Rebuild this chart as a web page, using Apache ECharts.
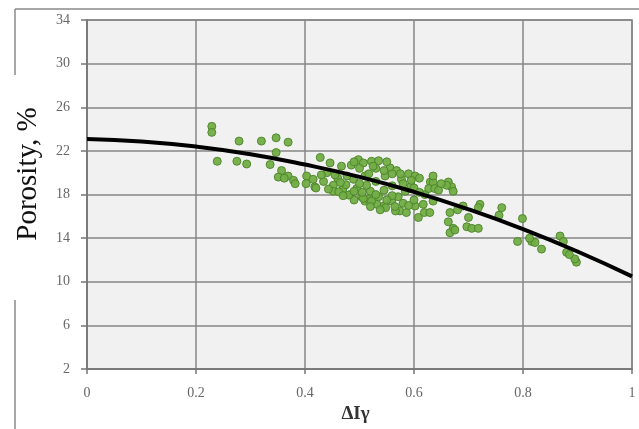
<!DOCTYPE html>
<html>
<head>
<meta charset="utf-8">
<script src="https://cdn.jsdelivr.net/npm/echarts@6/dist/echarts.min.js"></script>
<style>
html,body{margin:0;padding:0;background:#fff;}
#c{width:639px;height:429px;}
</style>
</head>
<body>
<div id="c"></div>
<script>
// Axis tick labels
const xTicks = [0, 0.2, 0.4, 0.6, 0.8, 1];
const yTicks = [2, 6, 10, 14, 18, 22, 26, 30, 34];

// Fitted trend curve
const curveX = [0, 0.1, 0.2, 0.3, 0.4, 0.5, 0.6, 0.7, 0.8, 0.9, 1.0];
const curveY = [23.1, 22.86, 22.4, 21.7, 20.75, 19.62, 18.25, 16.65, 14.83, 12.78, 10.5];

// Measured samples: ΔIγ
const sampleX = [
  0.229,0.229,0.239,0.275,0.279,0.293,0.32,0.347,0.369,0.347,0.336,0.357,0.351,0.369,0.379,0.362,0.403,0.402,0.382,
  0.428,0.446,0.467,0.498,0.507,0.418,0.434,0.452,0.452,0.47,0.483,0.495,0.504,0.51,0.489,0.51,0.477,0.42,0.443,0.44,0.46,
  0.522,0.535,0.556,0.568,0.59,0.602,0.577,0.547,0.517,0.52,0.535,0.532,0.545,0.559,0.571,0.584,0.574,0.586,0.608,0.602,
  0.617,0.62,0.63,0.627,0.517,0.513,0.49,0.507,0.522,0.548,0.566,0.619,0.462,0.48,0.53,0.545,0.5,0.485,0.49,0.525,
  0.55,0.56,0.58,0.595,0.61,0.6,0.56,0.545,0.53,0.5,0.475,0.465,0.455,0.43,0.415,0.49,0.53,0.56,0.58,0.55,
  0.565,0.59,0.6,0.61,0.575,0.595,0.538,0.505,0.47,0.52,
  0.635,0.638,0.663,0.669,0.672,0.66,0.69,0.721,0.718,0.666,0.663,0.672,0.666,0.675,0.697,0.706,0.718,0.629,0.635,0.635,
  0.645,0.65,0.68,0.7,0.761,0.756,0.799,0.79,0.816,0.822,0.834,0.868,0.874,0.88,0.898,0.895,0.885,0.812
];
// Measured samples: porosity %
const sampleY = [
  24.25,23.7,21.05,21.05,22.9,20.8,22.9,23.2,22.8,21.85,20.75,20.2,19.6,19.7,19.3,19.5,19.7,19.0,19.0,
  21.4,20.9,20.6,21.2,20.9,18.7,19.2,18.85,18.3,18.55,18.0,18.55,17.8,17.4,19.4,19.7,19.7,18.6,18.5,20.0,19.5,
  21.05,21.1,20.45,20.2,19.9,19.7,19.4,19.7,19.9,18.3,17.8,17.1,16.95,17.4,17.8,18.3,16.5,16.35,15.9,16.95,
  17.1,18.0,19.15,18.55,17.55,18.85,17.5,17.65,17.4,16.8,16.5,16.35,18.25,17.95,20.4,20.2,20.4,20.7,21.0,20.6,
  21.0,19.9,19.0,18.8,19.5,18.6,18.8,18.4,19.2,19.0,18.9,19.1,19.8,19.8,19.4,18.3,18.0,17.9,17.2,17.5,
  16.9,17.0,17.5,18.2,19.9,19.3,16.6,18.2,17.9,16.9,
  19.15,18.55,19.15,18.7,18.3,18.85,16.95,17.1,16.8,16.35,15.5,14.9,14.5,14.75,15.05,14.9,14.9,16.35,17.4,19.7,
  18.4,19.0,16.6,15.9,16.8,16.1,15.8,13.7,13.7,13.6,13.0,14.2,13.7,12.7,11.8,12.1,12.5,14.0
];

const chart = echarts.init(document.getElementById('c'), null, {renderer: 'canvas'});
const serif = '"Liberation Serif", "DejaVu Serif", serif';
const gridColor = '#868686';

chart.setOption({
  animation: false,
  backgroundColor: '#ffffff',
  grid: {
    left: 87, right: 7, top: 20, bottom: 44,
    show: true, backgroundColor: '#f1f1f1', borderColor: gridColor, borderWidth: 1.5
  },
  xAxis: {
    type: 'value', min: xTicks[0], max: xTicks[xTicks.length - 1], interval: 0.2,
    axisLine: {show: true, onZero: false, lineStyle: {color: '#767676', width: 1.5}},
    axisTick: {show: true, length: 5, lineStyle: {color: '#767676', width: 1.5}},
    axisLabel: {fontFamily: serif, fontSize: 14, color: '#666666', margin: 17},
    splitLine: {show: true, lineStyle: {color: gridColor, width: 1.5}},
    name: 'ΔIγ', nameLocation: 'middle', nameGap: 23,
    nameTextStyle: {fontFamily: serif, fontSize: 19, fontWeight: 'bold', color: '#333', padding: [0, 0, 0, -8]}
  },
  yAxis: {
    type: 'value', min: yTicks[0], max: yTicks[yTicks.length - 1], interval: 4,
    axisLine: {show: true, lineStyle: {color: '#767676', width: 1.5}},
    axisTick: {show: true, length: 6, lineStyle: {color: '#767676', width: 1.5}},
    axisLabel: {fontFamily: serif, fontSize: 14, color: '#666666', margin: 17},
    splitLine: {show: true, lineStyle: {color: gridColor, width: 1.5}}
  },
  graphic: [
    {type: 'line', shape: {x1: 15, y1: 9, x2: 639, y2: 9}, style: {stroke: '#8a8a8a', lineWidth: 1.5}, z: 0},
    {type: 'line', shape: {x1: 15, y1: 9, x2: 15, y2: 75}, style: {stroke: '#8a8a8a', lineWidth: 1.5}, z: 0},
    {type: 'line', shape: {x1: 15, y1: 300, x2: 15, y2: 429}, style: {stroke: '#8a8a8a', lineWidth: 1.5}, z: 0},
    {type: 'text', x: 28, y: 174, rotation: Math.PI / 2,
     style: {text: 'Porosity, %', font: '29px "Liberation Serif", serif', fill: '#111', textAlign: 'center', textVerticalAlign: 'middle'}, z: 10}
  ],
  series: [
    {
      type: 'scatter',
      data: sampleX.map((x, i) => [x, sampleY[i]]),
      symbolSize: 8,
      itemStyle: {color: '#72ad46', borderColor: '#4d862b', borderWidth: 1, opacity: 0.95},
      z: 2
    },
    {
      type: 'line',
      data: curveX.map((x, i) => [x, curveY[i]]),
      smooth: true,
      showSymbol: false,
      lineStyle: {color: '#000', width: 4},
      z: 3
    }
  ]
});
</script>
</body>
</html>
